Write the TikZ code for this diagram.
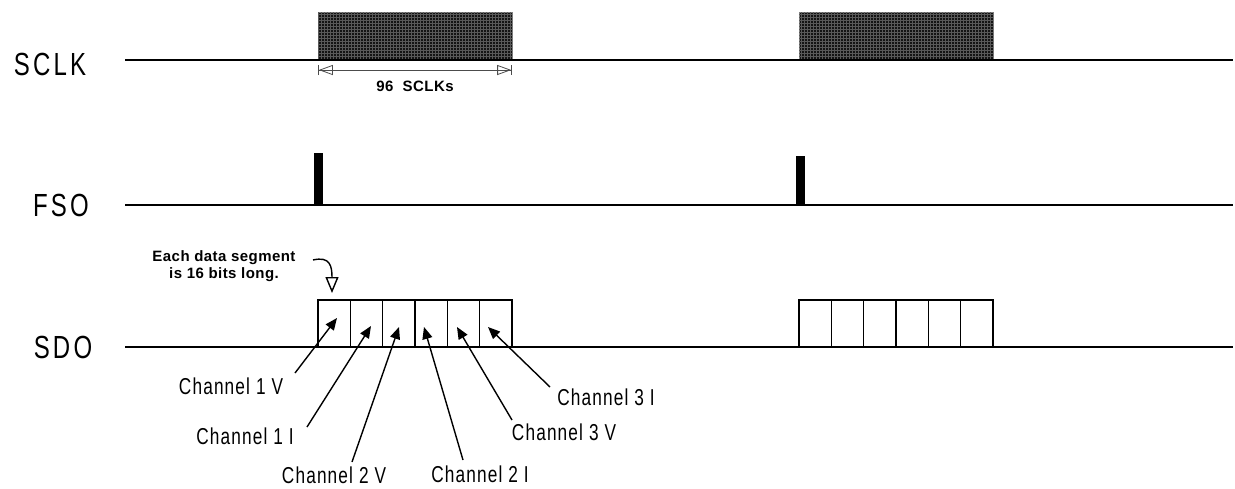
\documentclass[tikz,border=0pt]{standalone}
\usepackage{fontspec}
\setmainfont{Liberation Sans}
\newfontfamily\sigfont[FakeStretch=0.75,LetterSpace=10]{Liberation Sans}
\newfontfamily\chfont[FakeStretch=0.75,LetterSpace=5]{Liberation Sans}
\newfontfamily\notefont[LetterSpace=3]{Liberation Sans}
\usetikzlibrary{arrows.meta,patterns,positioning}
\tikzstyle{signame}=[inner sep=0pt, font=\sigfont\fontsize{32}{38}\selectfont]
\tikzstyle{chname}=[inner sep=0pt, font=\chfont\fontsize{23}{27}\selectfont]
\tikzstyle{note}=[inner sep=0pt, align=center, font=\notefont\bfseries\fontsize{15}{17}\selectfont]
\tikzstyle{trace}=[line width=2pt]
\tikzstyle{burst}=[draw=gray, line width=1pt, fill=black!92, postaction={pattern=grid, pattern color=black!65}]
\tikzstyle{pulse}=[fill=black]
\tikzstyle{segbox}=[draw, line width=1.3pt]
\tikzstyle{chArrow}=[line width=1.4pt, -{Triangle[length=12pt,width=10pt]}]
\tikzstyle{dimArrow}=[line width=0.8pt, draw=black!70, {Bar[width=10pt,sep=0pt]Triangle[open,length=14pt,width=10pt,sep=0pt]}-{Triangle[open,length=14pt,width=10pt,sep=0pt]Bar[width=10pt]}]
\tikzstyle{noteArrow}=[line width=1.4pt, -{Triangle[open,length=16pt,width=13pt]}]

\begin{document}
\begin{tikzpicture}[x=1pt,y=-1pt]
    \useasboundingbox (0,0) rectangle (1235,488);

    % signal names
    \node[signame] (sclk) at (50,64) {SCLK};
    \node[signame] (fso) at (61,205) {FSO};
    \node[signame] (sdo) at (63,347) {SDO};

    % clock bursts
    \path[burst] (318,12) rectangle (512,60);
    \path[burst] (799,12) rectangle (993,60);

    % frame sync pulses
    \fill[pulse] (314,153) rectangle (322.7,205);
    \fill[pulse] (796,156) rectangle (805,205);

    % data segments
    \draw[segbox] (318,300) rectangle (512,347);
    \draw[segbox] (350.3,300) -- (350.3,347);
    \draw[segbox] (382.7,300) -- (382.7,347);
    \draw[segbox] (415,300) -- (415,347);
    \draw[segbox] (447.3,300) -- (447.3,347);
    \draw[segbox] (479.7,300) -- (479.7,347);
    \draw[segbox] (799,300) rectangle (993,347);
    \draw[segbox] (831.3,300) -- (831.3,347);
    \draw[segbox] (863.7,300) -- (863.7,347);
    \draw[segbox] (896,300) -- (896,347);
    \draw[segbox] (928.3,300) -- (928.3,347);
    \draw[segbox] (960.7,300) -- (960.7,347);

    % traces
    \coordinate (sclkL) at (125,60);
    \coordinate (sclkR) at (1233,60);
    \coordinate (fsoL) at (125,205);
    \coordinate (fsoR) at (1233,205);
    \coordinate (sdoL) at (125,347);
    \coordinate (sdoR) at (1233,347);
    \draw[trace] (sclkL) -- (sclkR);
    \draw[trace] (fsoL) -- (fsoR);
    \draw[trace] (sdoL) -- (sdoR);

    % burst length
    \coordinate (dimL) at (318,70);
    \coordinate (dimR) at (512,70);
    \draw[dimArrow] (dimL) -- (dimR);
    \node[note] (dimtext) at (415,86) {96~~SCLKs};

    % segment note
    \node[note] (seg) at (224,266) {Each data segment\\is 16 bits long.};
    \coordinate (segTail) at (313,260);
    \coordinate (segTip) at (332,293);
    \draw[noteArrow] (segTail) .. controls (330,256) and (332,266) .. (segTip);

    % channel labels
    \node[chname] (c1v) at (231,386) {Channel 1 V};
    \node[chname] (c1i) at (245,436) {Channel 1 I};
    \node[chname] (c2v) at (334,475) {Channel 2 V};
    \node[chname] (c2i) at (480,474) {Channel 2 I};
    \node[chname] (c3v) at (564,432) {Channel 3 V};
    \node[chname] (c3i) at (606,397) {Channel 3 I};

    % channel arrows
    \coordinate (c1vTail) at (295,373);
    \coordinate (c1vTip) at (337,318);
    \coordinate (c1iTail) at (307,427);
    \coordinate (c1iTip) at (371,326);
    \coordinate (c2vTail) at (352,462);
    \coordinate (c2vTip) at (399,327);
    \coordinate (c2iTail) at (463,460);
    \coordinate (c2iTip) at (424,327);
    \coordinate (c3vTail) at (512,420);
    \coordinate (c3vTip) at (457,327);
    \coordinate (c3iTail) at (550,387);
    \coordinate (c3iTip) at (488,327);
    \draw[chArrow] (c1vTail) -- (c1vTip);
    \draw[chArrow] (c1iTail) -- (c1iTip);
    \draw[chArrow] (c2vTail) -- (c2vTip);
    \draw[chArrow] (c2iTail) -- (c2iTip);
    \draw[chArrow] (c3vTail) -- (c3vTip);
    \draw[chArrow] (c3iTail) -- (c3iTip);
\end{tikzpicture}
\end{document}
